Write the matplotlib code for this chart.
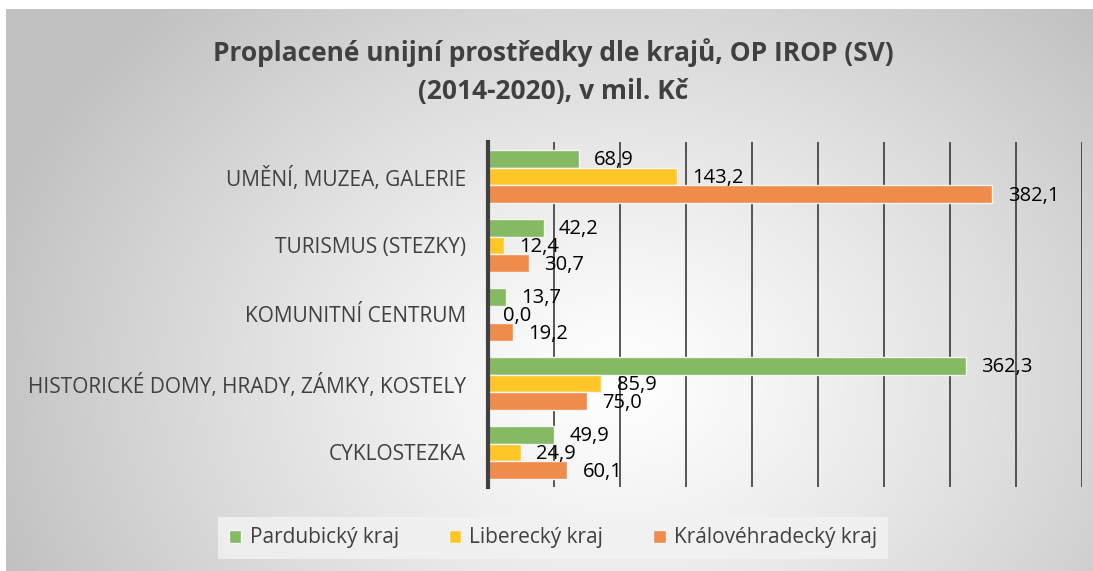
import numpy as np
import matplotlib
matplotlib.use("Agg")
import matplotlib.pyplot as plt
from matplotlib.patches import Patch

plt.rcParams['font.family'] = ['Open Sans', 'DejaVu Sans']

# data (bottom -> top, as drawn)
categories = ["CYKLOSTEZKA",
              "HISTORICKÉ DOMY, HRADY, ZÁMKY, KOSTELY",
              "KOMUNITNÍ CENTRUM",
              "TURISMUS (STEZKY)",
              "UMĚNÍ, MUZEA, GALERIE"]
pardubicky = [49.9, 362.3, 13.7, 42.2, 68.9]
liberecky = [24.9, 85.9, 0.0, 12.4, 143.2]
kralovehradecky = [60.1, 75.0, 19.2, 30.7, 382.1]
series_names = ["Pardubický kraj", "Liberecký kraj", "Královéhradecký kraj"]
colors = ["#85b962", "#ffc627", "#ef8c4c"]

W, H = 1093, 571
fig = plt.figure(figsize=(W / 100, H / 100), dpi=100)

# radial gray background panel
bg = fig.add_axes([6 / W, 0, (W - 6) / W, (H - 9) / H], zorder=-5)
yy, xx = np.mgrid[9:H, 6:W]
d = np.sqrt(((xx - 620) / 650.0) ** 2 + ((yy - 380) / 520.0) ** 2)
g = 1.0 - 0.24 * np.clip(d, 0, 1) ** 1.2
bg.imshow(np.dstack([g, g, g]), aspect='auto', interpolation='bilinear')
bg.set_axis_off()

ax = fig.add_axes([488 / W, 84 / H, 594 / W, 345 / H])
ax.patch.set_alpha(0)

y = np.arange(len(categories))
h = 0.257
series = [pardubicky, liberecky, kralovehradecky]
offsets = [h, 0, -h]
for vals, col, off, name in zip(series, colors, offsets, series_names):
    ax.barh(y + off, vals, height=h, color=col, edgecolor='#f4f4f4',
            linewidth=1, label=name, zorder=3)
    for yi, v in zip(y, vals):
        ax.annotate(f"{v:.1f}".replace('.', ','), (v, yi + off),
                    xytext=(11, -1), textcoords='offset points',
                    va='center', ha='left', fontsize=14.5, color='#000000',
                    zorder=4)

ax.set_xlim(0, 450)
ax.set_ylim(-0.5, 4.5)
ax.set_xticks(np.arange(50, 451, 50))
ax.xaxis.grid(True, color='#2b2b2b', linewidth=1.1, zorder=1)
ax.tick_params(axis='x', length=0, labelbottom=False)
ax.tick_params(axis='y', length=0, pad=16)
ax.set_yticks(y)
ax.set_yticklabels(categories, fontsize=15, color='#404040')
for s in ['top', 'right', 'bottom']:
    ax.spines[s].set_visible(False)
ax.spines['left'].set_color('#404040')
ax.spines['left'].set_linewidth(3)
ax.spines['left'].set_zorder(5)

fig.text(553 / W, 1 - 53 / H, "Proplacené unijní prostředky dle krajů, OP IROP (SV)",
         ha='center', va='center', fontsize=19, fontweight='bold', color='#404040')
fig.text(553 / W, 1 - 91 / H, "(2014-2020), v mil. Kč",
         ha='center', va='center', fontsize=19, fontweight='bold', color='#404040')

handles = [Patch(facecolor=c, edgecolor='#f4f4f4') for c in colors]
leg = fig.legend(handles, series_names, loc='center', ncol=3,
                 bbox_to_anchor=(553 / W, 1 - 538 / H), fontsize=15,
                 frameon=True, fancybox=False, handlelength=0.6, handleheight=0.6,
                 handletextpad=0.4, columnspacing=2.4, borderpad=0.5)
leg.get_frame().set_facecolor('#f2f2f2')
leg.get_frame().set_edgecolor('none')
leg.get_frame().set_alpha(0.85)
for t in leg.get_texts():
    t.set_color('#404040')

fig.savefig("out.png", dpi=100)
